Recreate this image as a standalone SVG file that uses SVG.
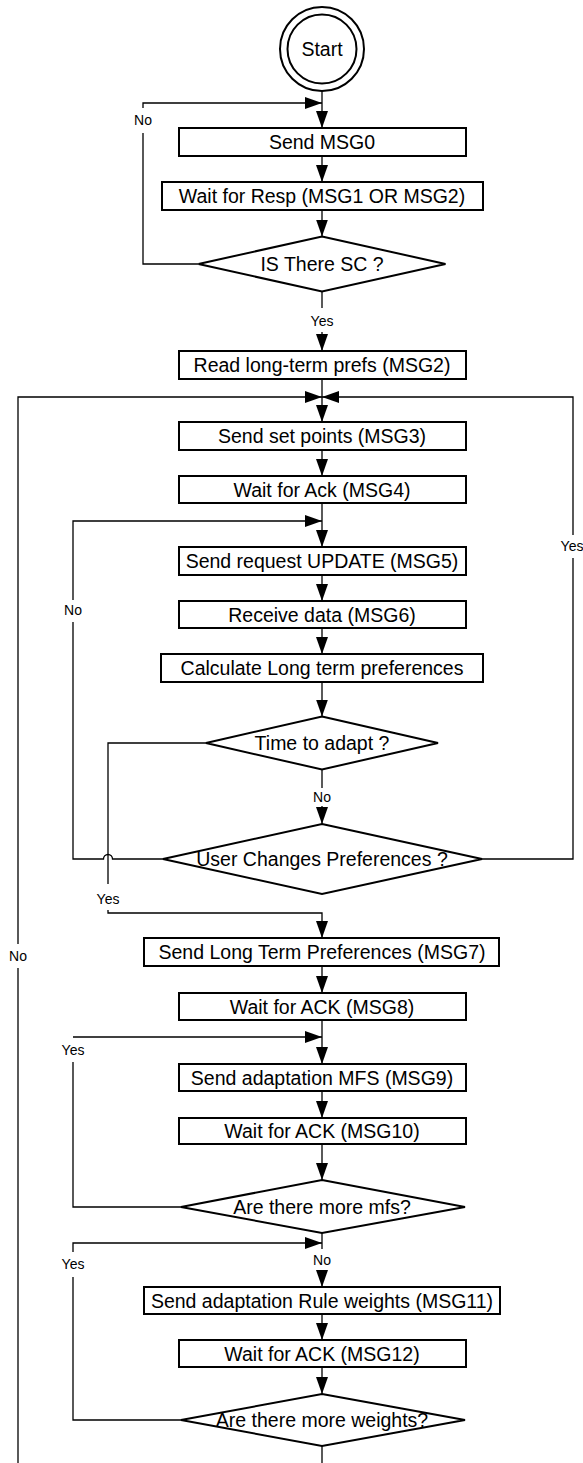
<svg xmlns="http://www.w3.org/2000/svg" width="583" height="1463" viewBox="0 0 583 1463">
<style>
.box{fill:#fff;stroke:#000;stroke-width:2}
.dia{fill:#fff;stroke:#000;stroke-width:2}
.t{font-family:"Liberation Sans",Arial,sans-serif;font-size:19.5px;text-anchor:middle;fill:#000}
.l{font-family:"Liberation Sans",Arial,sans-serif;font-size:14px;text-anchor:middle;fill:#000}
.c{fill:none;stroke:#000;stroke-width:1.3}
.a{marker-end:url(#arr)}
</style>
<defs>
<marker id="arr" markerUnits="userSpaceOnUse" markerWidth="18" markerHeight="13" refX="17" refY="6" orient="auto">
<path d="M0,0 L17,6 L0,12 z" fill="#000"/>
</marker>
</defs>
<rect width="583" height="1463" fill="#fff"/>
<g id="connectors">
<path class="c a" d="M322,91 V128"/>
<path class="c" d="M198.5,264 H143 V133"/>
<path class="c a" d="M143,108 V103 H322"/>
<path class="c a" d="M322,156 V182"/>
<path class="c a" d="M322,210 V236.5"/>
<path class="c" d="M322,291.5 V308"/>
<path class="c a" d="M322,332 V351"/>
<path class="c a" d="M322,379 V422"/>
<path class="c" d="M18,1463 V968"/>
<path class="c a" d="M18,944 V397 H322"/>
<path class="c" d="M482,859 H573 V558"/>
<path class="c a" d="M573,535 V397 H322"/>
<path class="c a" d="M322,450 V476"/>
<path class="c a" d="M322,503 V547"/>
<path class="c" d="M163,859 H112.5 A4.5,4.5 0 0 0 103.5,859 H73 V622"/>
<path class="c a" d="M73,600 V521 H322"/>
<path class="c a" d="M322,575 V601"/>
<path class="c a" d="M322,628 V654"/>
<path class="c a" d="M322,682 V716.5"/>
<path class="c" d="M322,769.5 V788"/>
<path class="c a" d="M322,806 V824"/>
<path class="c" d="M206,743 H108 V884"/>
<path class="c a" d="M108,910 V913 H322 V938"/>
<path class="c a" d="M322,966 V993"/>
<path class="c a" d="M322,1020 V1064"/>
<path class="c" d="M181,1207 H73 V1062"/>
<path class="c a" d="M73,1037 H322"/>
<path class="c a" d="M322,1091 V1118"/>
<path class="c a" d="M322,1144 V1180"/>
<path class="c" d="M322,1233 V1249"/>
<path class="c a" d="M322,1271 V1287"/>
<path class="c" d="M181,1420 H73 V1277"/>
<path class="c a" d="M73,1252 V1243 H322"/>
<path class="c a" d="M322,1314 V1340"/>
<path class="c a" d="M322,1367 V1394"/>
<path class="c" d="M322,1446 V1463"/>
<text class="l" x="143" y="125">No</text>
<text class="l" x="322" y="326">Yes</text>
<text class="l" x="18" y="961">No</text>
<text class="l" x="572" y="551">Yes</text>
<text class="l" x="73" y="615">No</text>
<text class="l" x="322" y="802">No</text>
<text class="l" x="108" y="904">Yes</text>
<text class="l" x="73" y="1055">Yes</text>
<text class="l" x="322" y="1265">No</text>
<text class="l" x="73" y="1269">Yes</text>
</g>
<g id="start">
<circle cx="322" cy="49" r="42" fill="#fff" stroke="#000" stroke-width="2"/>
<circle cx="322" cy="49" r="34.5" fill="#fff" stroke="#000" stroke-width="2"/>
<text class="t" x="322" y="56">Start</text>
</g>
<g id="send_msg0"><rect class="box" x="179" y="128" width="287" height="28"/><text class="t" x="322" y="149">Send MSG0</text></g>
<g id="wait_resp"><rect class="box" x="162" y="182" width="321" height="28"/><text class="t" x="322" y="203">Wait for Resp (MSG1 OR MSG2)</text></g>
<g id="is_there_sc"><polygon class="dia" points="322,236.5 445.5,264 322,291.5 198.5,264"/><text class="t" x="322" y="271">IS There SC ?</text></g>
<g id="read_prefs"><rect class="box" x="179" y="351" width="287" height="28"/><text class="t" x="322" y="372">Read long-term prefs (MSG2)</text></g>
<g id="send_setpoints"><rect class="box" x="179" y="422" width="287" height="28"/><text class="t" x="322" y="443">Send set points (MSG3)</text></g>
<g id="wait_ack4"><rect class="box" x="179" y="476" width="287" height="27"/><text class="t" x="322" y="496.5">Wait for Ack (MSG4)</text></g>
<g id="send_update"><rect class="box" x="179" y="547" width="287" height="28"/><text class="t" x="322" y="568">Send request UPDATE (MSG5)</text></g>
<g id="receive_data"><rect class="box" x="179" y="601" width="287" height="27"/><text class="t" x="322" y="621.5">Receive data (MSG6)</text></g>
<g id="calculate"><rect class="box" x="161" y="654" width="322" height="28"/><text class="t" x="322" y="675">Calculate Long term preferences</text></g>
<g id="time_to_adapt"><polygon class="dia" points="322,716.5 438,743 322,769.5 206,743"/><text class="t" x="322" y="750">Time to adapt ?</text></g>
<g id="user_changes"><polygon class="dia" points="322,824 482,859 322,894 163,859"/><text class="t" x="322" y="866">User Changes Preferences ?</text></g>
<g id="send_lt"><rect class="box" x="144" y="938" width="355" height="28"/><text class="t" x="322" y="959">Send Long Term Preferences (MSG7)</text></g>
<g id="wait_ack8"><rect class="box" x="179" y="993" width="287" height="27"/><text class="t" x="322" y="1013.5">Wait for ACK (MSG8)</text></g>
<g id="send_mfs"><rect class="box" x="179" y="1064" width="287" height="27"/><text class="t" x="322" y="1084.5">Send adaptation MFS (MSG9)</text></g>
<g id="wait_ack10"><rect class="box" x="179" y="1118" width="287" height="26"/><text class="t" x="322" y="1138">Wait for ACK (MSG10)</text></g>
<g id="more_mfs"><polygon class="dia" points="322,1180 465,1207 322,1233 181,1207"/><text class="t" x="322" y="1214">Are there more mfs?</text></g>
<g id="send_rule"><rect class="box" x="144" y="1287" width="356" height="27"/><text class="t" x="322" y="1307.5">Send adaptation Rule weights (MSG11)</text></g>
<g id="wait_ack12"><rect class="box" x="179" y="1340" width="287" height="27"/><text class="t" x="322" y="1360.5">Wait for ACK (MSG12)</text></g>
<g id="more_weights"><polygon class="dia" points="322,1394 465,1420 322,1446 181,1420"/><text class="t" x="322" y="1427">Are there more weights?</text></g>
</svg>
